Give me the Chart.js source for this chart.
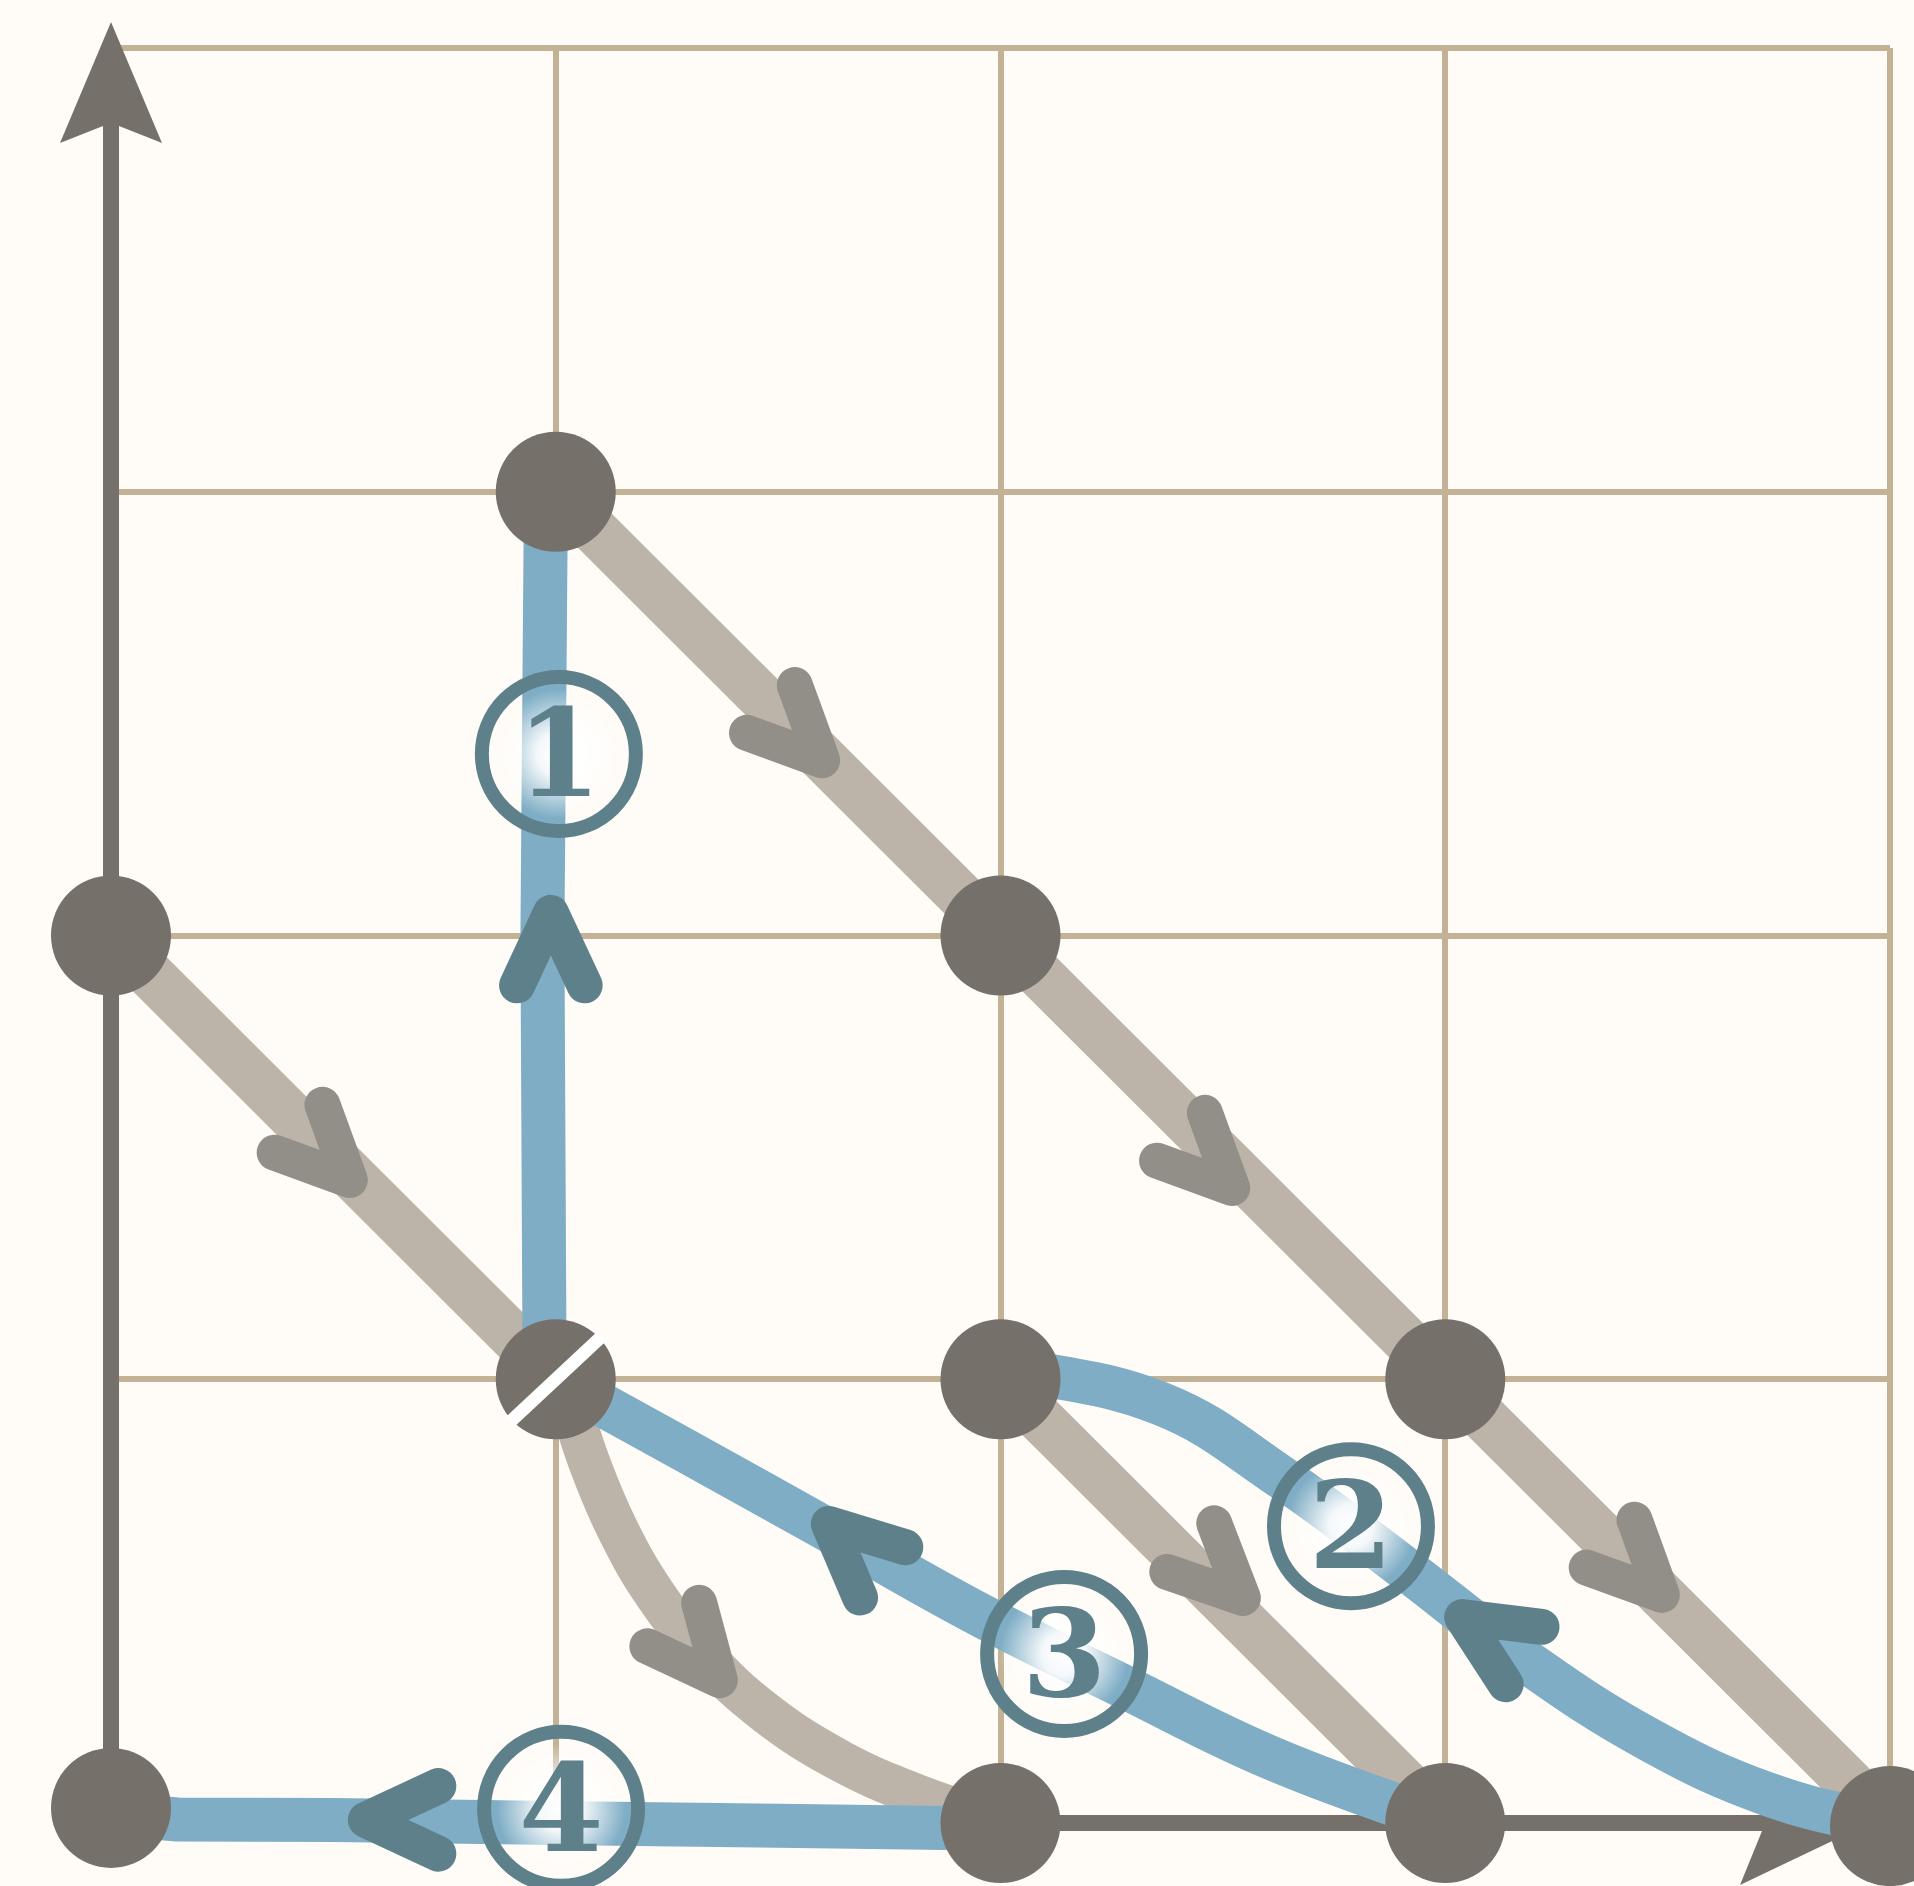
<!DOCTYPE html>
<html>
<head>
<meta charset="utf-8">
<title>Paths on a grid</title>
<script src="https://cdn.jsdelivr.net/npm/chart.js@4.4.1/dist/chart.umd.min.js"></script>
<style>
  html, body { margin: 0; padding: 0; background: #fffcf7; }
  canvas { display: block; }
</style>
</head>
<body>
<canvas id="chart" width="1914" height="1886"></canvas>
<script>
// ---- data (grid units) ----
const nodeX = [1, 0, 2, 1, 2, 3, 0, 2, 3, 4];
const nodeY = [3, 2, 2, 1, 1, 1, 0.034, 0, 0, -0.007];
const nodeCut = [false, false, false, true, false, false, false, false, false, false];

// grey paths
const greyX1 = [1, 2, 3, 4];
const greyY1 = [3, 2, 1, 0];
const greyX2 = [0, 1];
const greyY2 = [2, 1];
const greyX3 = [1.03, 1.08, 1.14, 1.22, 1.33, 1.47, 1.64, 1.82, 2];
const greyY3 = [0.95, 0.8, 0.66, 0.52, 0.38, 0.25, 0.14, 0.06, 0];
const greyX4 = [2, 3];
const greyY4 = [1, 0];

// blue paths
const blueX1 = [0.975, 0.97, 0.978];
const blueY1 = [1, 2, 3];
const blueX2 = [2, 2.36, 2.63, 2.91, 3.18, 3.46, 3.73, 4];
const blueY2 = [1.03, 0.945, 0.78, 0.573, 0.366, 0.187, 0.063, -0.007];
const blueX3 = [1, 1.29, 1.62, 1.95, 2.28, 2.61, 3];
const blueY3 = [1, 0.84, 0.656, 0.471, 0.306, 0.146, 0];
const blueX4 = [2, 1.5, 1.0, 0.5, 0.15, 0];
const blueY4 = [-0.013, -0.006, 0, 0.007, 0.008, 0.02];

// direction marks (vertex position + heading in degrees)
const greyArrowX = [1.599, 2.521, 3.487, 0.537, 1.369, 2.545];
const greyArrowY = [2.395, 1.431, 0.514, 1.449, 0.322, 0.507];
const greyArrowDir = [-45, -45, -45, -45, -50, -44];
const blueArrowX = [0.989, 3.038, 1.614, 0.573];
const blueArrowY = [2.051, 0.464, 0.674, 0.007];
const blueArrowDir = [90, 148, 138, 180];

// circled numbers
const labelX = [1.007, 2.788, 2.143, 1.012];
const labelY = [2.409, 0.669, 0.381, 0.032];
const labelText = ["1", "2", "3", "4"];

// ---- styles ----
const GRID = "#c4b296";
const AXIS = "#75706a";
const GREY_LINE = "#bcb3a9";
const GREY_MARK = "#928f89";
const BLUE_LINE = "#7eadc5";
const BLUE_DARK = "#5e808b";

const toPoints = (xs, ys) => xs.map((x, i) => ({ x: x, y: ys[i] }));

function pathSet(xs, ys, color, width, tension, order) {
  return {
    data: toPoints(xs, ys),
    showLine: true,
    borderColor: color,
    borderWidth: width,
    tension: tension,
    pointRadius: 0,
    borderCapStyle: "butt",
    borderJoinStyle: "round",
    clip: false,
    order: order,
  };
}

function chevron(ctx, cx, cy, deg, color) {
  const a = deg * Math.PI / 180;
  const bx = -Math.cos(a), by = Math.sin(a); // backwards, screen coords
  const t = 25 * Math.PI / 180, L = 80;
  const arm = (s) => [
    cx + L * (bx * Math.cos(s * t) - by * Math.sin(s * t)),
    cy + L * (bx * Math.sin(s * t) + by * Math.cos(s * t)),
  ];
  const p1 = arm(1), p2 = arm(-1);
  ctx.beginPath();
  ctx.moveTo(p1[0], p1[1]);
  ctx.lineTo(cx, cy);
  ctx.lineTo(p2[0], p2[1]);
  ctx.strokeStyle = color;
  ctx.lineWidth = 36;
  ctx.lineCap = "round";
  ctx.lineJoin = "round";
  ctx.stroke();
}

const diagram = {
  id: "diagram",
  beforeDatasetsDraw(chart) {
    const ctx = chart.ctx, sx = chart.scales.x, sy = chart.scales.y;
    const ox = sx.getPixelForValue(0), oy = sy.getPixelForValue(0);
    const top = chart.chartArea.top, right = chart.chartArea.right;
    ctx.save();
    ctx.fillStyle = AXIS;
    // y axis shaft + head
    const ty = top - 26;
    ctx.fillRect(ox - 8, ty + 100, 16, oy - ty - 100);
    ctx.beginPath();
    ctx.moveTo(ox, ty);
    ctx.lineTo(ox + 51, ty + 121);
    ctx.lineTo(ox + 8, ty + 104);
    ctx.lineTo(ox - 8, ty + 104);
    ctx.lineTo(ox - 51, ty + 121);
    ctx.closePath();
    ctx.fill();
    // x axis shaft + head
    const tx = right - 20;
    ctx.fillRect(ox, oy - 8, tx - 105 - ox, 16);
    ctx.beginPath();
    ctx.moveTo(tx, oy);
    ctx.lineTo(tx - 130, oy + 62);
    ctx.lineTo(tx - 108, oy + 8);
    ctx.lineTo(tx - 108, oy - 8);
    ctx.lineTo(tx - 130, oy - 62);
    ctx.closePath();
    ctx.fill();
    ctx.restore();
  },
  afterDatasetsDraw(chart) {
    const ctx = chart.ctx, sx = chart.scales.x, sy = chart.scales.y;
    ctx.save();
    greyArrowX.forEach((x, i) =>
      chevron(ctx, sx.getPixelForValue(x), sy.getPixelForValue(greyArrowY[i]), greyArrowDir[i], GREY_MARK));
    blueArrowX.forEach((x, i) =>
      chevron(ctx, sx.getPixelForValue(x), sy.getPixelForValue(blueArrowY[i]), blueArrowDir[i], BLUE_DARK));

    // circled numbers
    labelX.forEach((x, i) => {
      const cx = sx.getPixelForValue(x), cy = sy.getPixelForValue(labelY[i]);
      const g = ctx.createRadialGradient(cx, cy, 0, cx, cy, 72);
      g.addColorStop(0, "rgba(255,255,255,1)");
      g.addColorStop(0.3, "rgba(255,255,255,0.92)");
      g.addColorStop(0.9, "rgba(255,255,255,0)");
      ctx.beginPath();
      ctx.arc(cx, cy, 77, 0, Math.PI * 2);
      ctx.fillStyle = g;
      ctx.fill();
      ctx.lineWidth = 14;
      ctx.strokeStyle = BLUE_DARK;
      ctx.stroke();
      ctx.fillStyle = BLUE_DARK;
      ctx.font = 'bold 122px "DejaVu Serif"';
      ctx.textAlign = "center";
      ctx.textBaseline = "alphabetic";
      ctx.fillText(labelText[i], cx, cy + 42);
    });

    // white cut across marked nodes
    nodeX.forEach((x, i) => {
      if (!nodeCut[i]) return;
      const cx = sx.getPixelForValue(x), cy = sy.getPixelForValue(nodeY[i]);
      const a = 43 * Math.PI / 180, h = 63;
      ctx.beginPath();
      ctx.moveTo(cx - h * Math.cos(a), cy + h * Math.sin(a));
      ctx.lineTo(cx + h * Math.cos(a), cy - h * Math.sin(a));
      ctx.strokeStyle = "#ffffff";
      ctx.lineWidth = 13;
      ctx.lineCap = "butt";
      ctx.stroke();
    });
    ctx.restore();
  },
};

const axisOpts = {
  type: "linear",
  min: 0,
  max: 4,
  ticks: { display: false, stepSize: 1 },
  grid: { color: GRID, lineWidth: 6, drawTicks: false, tickLength: 0 },
  border: { display: false },
};

new Chart(document.getElementById("chart"), {
  type: "scatter",
  data: {
    datasets: [
      {
        data: toPoints(nodeX, nodeY),
        pointRadius: 60,
        pointHoverRadius: 60,
        pointBackgroundColor: AXIS,
        pointBorderWidth: 0,
        showLine: false,
        clip: false,
        order: 0,
      },
      pathSet(blueX1, blueY1, BLUE_LINE, 44, 0, 1),
      pathSet(blueX2, blueY2, BLUE_LINE, 44, 0.4, 1),
      pathSet(blueX3, blueY3, BLUE_LINE, 44, 0.4, 1),
      pathSet(blueX4, blueY4, BLUE_LINE, 44, 0, 1),
      pathSet(greyX1, greyY1, GREY_LINE, 48, 0, 2),
      pathSet(greyX2, greyY2, GREY_LINE, 48, 0, 2),
      pathSet(greyX3, greyY3, GREY_LINE, 42, 0.4, 2),
      pathSet(greyX4, greyY4, GREY_LINE, 48, 0, 2),
    ],
  },
  options: {
    responsive: false,
    devicePixelRatio: 1,
    animation: false,
    events: [],
    layout: { autoPadding: false, padding: { left: 111, top: 48, right: 24, bottom: 63 } },
    scales: { x: axisOpts, y: axisOpts },
    plugins: { legend: { display: false }, tooltip: { enabled: false } },
  },
  plugins: [diagram],
});
</script>
</body>
</html>
